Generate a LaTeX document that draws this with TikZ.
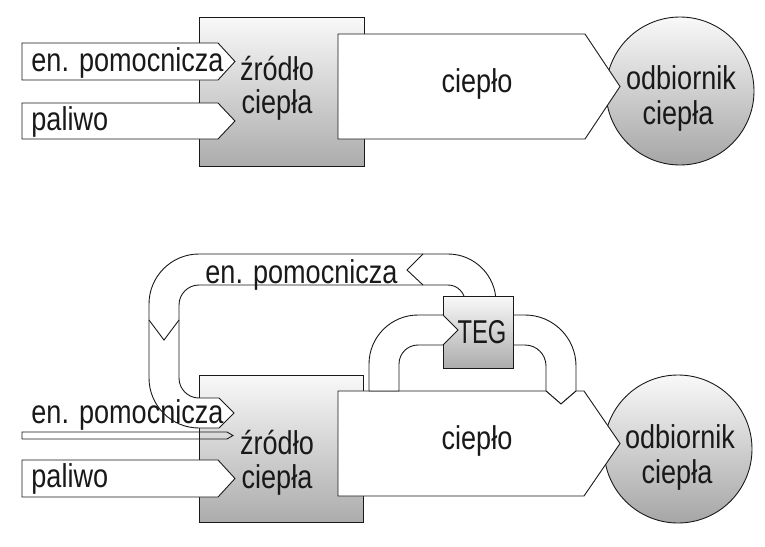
\documentclass[tikz,border=0pt]{standalone}
\usepackage{fontspec}
\setmainfont{Liberation Sans}[FakeStretch=0.82]
\newfontfamily\tegfont{Liberation Sans}[FakeStretch=0.72]
\begin{document}
\begin{tikzpicture}[x=1pt,y=-1pt,line width=0.9pt,line join=miter,
  lbl/.style={inner sep=0pt,font=\fontsize{33}{36}\selectfont,text=black!90},
  grayfill/.style={top color=gray!5,bottom color=gray!65,draw=black!90},
  ballfill/.style={top color=gray!5,bottom color=gray!70,draw=black!90},
  whiteshape/.style={fill=white,draw=black!90},
  chev/.style={draw=black!90}]
\useasboundingbox (0,0) rectangle (765,546);

% ================= top diagram =================
\draw[grayfill] (199,17) rectangle (364,166);
\draw[ballfill] (680,91) circle[radius=74];
\draw[whiteshape] (338,34) -- (585,34) -- (620,86.5) -- (585,139) -- (338,139) -- cycle;
\draw[whiteshape] (22,43) -- (218,43) -- (235,61.5) -- (218,80) -- (22,80) -- cycle;
\draw[whiteshape] (22,103) -- (218,103) -- (235,121) -- (218,139) -- (22,139) -- cycle;

\node[lbl,anchor=base west] (enA) at (31,71) {en. pomocnicza};
\node[lbl,anchor=base west] (palA) at (31,130) {paliwo};
\node[lbl,anchor=base] (srcA1) at (277,80) {źródło};
\node[lbl,anchor=base] (srcA2) at (277,113) {ciepła};
\node[lbl,anchor=base] (heatA) at (477,92) {ciepło};
\node[lbl,anchor=base] (recA1) at (681,89) {odbiornik};
\node[lbl,anchor=base] (recA2) at (678,124) {ciepła};

% ================= bottom diagram =================
\draw[grayfill] (199,375) rectangle (363,522);
\draw[ballfill] (678,449) circle[radius=74];

% loop: TEG -> source (en. pomocnicza)
\draw[whiteshape] (496,302) arc[start angle=0,end angle=-90,radius=48]
  -- (199,254) arc[start angle=-90,end angle=-180,radius=50]
  -- (149,378) arc[start angle=180,end angle=90,radius=50]
  -- (219,428) -- (234,413) -- (219,398) -- (199,398)
  arc[start angle=90,end angle=180,radius=20]
  -- (179,305) arc[start angle=180,end angle=270,radius=20]
  -- (448,285) arc[start angle=270,end angle=360,radius=17] -- cycle;
\draw[chev] (423,254) -- (407,270) -- (423,285);
\draw[chev] (149,320) -- (164,340) -- (179,320);

% loop: TEG -> heat
\draw[whiteshape] (513,315) -- (525,315) arc[start angle=270,end angle=360,radius=51]
  -- (576,391) -- (561,404) -- (546,391)
  -- (546,366) arc[start angle=0,end angle=-90,radius=21] -- (513,345) -- cycle;

% heat arrow
\draw[whiteshape] (338,391) -- (546,391) -- (561,404) -- (576,391) -- (584,391)
  -- (620,443.5) -- (584,496) -- (338,496) -- cycle;

% TEG box
\draw[grayfill] (443,296) rectangle (513,368);

% loop: heat -> TEG
\draw[whiteshape] (369,391) -- (369,364) arc[start angle=180,end angle=270,radius=49]
  -- (443,315) -- (458,330) -- (443,345) -- (418,345)
  arc[start angle=270,end angle=180,radius=19] -- (399,391) -- cycle;

% inputs
\draw[draw=black!90] (22,432) -- (227,432) -- (233,435.5) -- (227,439) -- (22,439) -- cycle;
\draw[whiteshape] (22,460) -- (218,460) -- (235,478.5) -- (218,497) -- (22,497) -- cycle;

\node[lbl,anchor=base west] (enL) at (205,283) {en. pomocnicza};
\node[lbl,anchor=base west] (enB) at (31,423) {en. pomocnicza};
\node[lbl,anchor=base west] (palB) at (31,487) {paliwo};
\node[lbl,anchor=base] (srcB1) at (277,454) {źródło};
\node[lbl,anchor=base] (srcB2) at (277,488) {ciepła};
\node[lbl,anchor=base] (heatB) at (477,449) {ciepło};
\node[lbl,anchor=base] (recB1) at (680,448) {odbiornik};
\node[lbl,anchor=base] (recB2) at (677,483) {ciepła};
\node[lbl,anchor=base,font=\tegfont\fontsize{33}{36}\selectfont] (teg) at (482,343) {TEG};
\end{tikzpicture}
\end{document}
